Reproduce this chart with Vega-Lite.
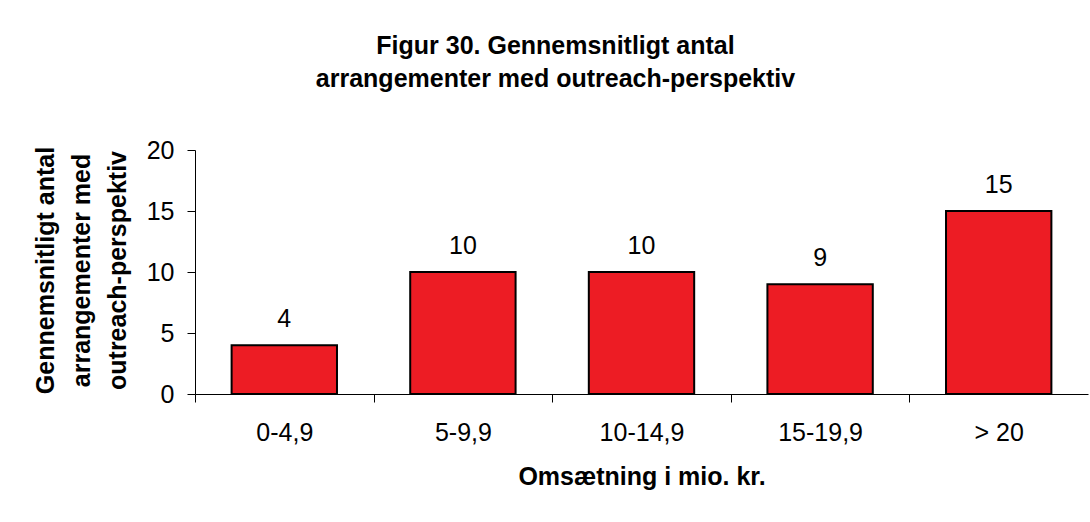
{
  "$schema": "https://vega.github.io/schema/vega-lite/v6.json",
  "width": 893,
  "height": 244,
  "autosize": {"type": "none"},
  "padding": {"left": 195, "top": 150, "right": 2, "bottom": 128},
  "background": "white",
  "config": {
    "font": "Liberation Sans",
    "view": {"stroke": null}
  },
  "title": {
    "text": ["Figur 30. Gennemsnitligt antal", "arrangementer med outreach-perspektiv"],
    "font": "Liberation Sans",
    "fontSize": 25,
    "fontWeight": "bold",
    "color": "black",
    "lineHeight": 33,
    "anchor": "middle",
    "dx": -86,
    "offset": 46
  },
  "data": {
    "values": [
      {"kategori": "0-4,9", "antal": 4},
      {"kategori": "5-9,9", "antal": 10},
      {"kategori": "10-14,9", "antal": 10},
      {"kategori": "15-19,9", "antal": 9},
      {"kategori": "> 20", "antal": 15}
    ]
  },
  "encoding": {
    "x": {
      "field": "kategori",
      "type": "nominal",
      "sort": null,
      "scale": {"paddingInner": 0.41, "paddingOuter": 0.205},
      "axis": {
        "title": "Omsætning i mio. kr.",
        "titleFont": "Liberation Sans",
        "titleFontSize": 25,
        "titleFontWeight": "bold",
        "titleColor": "black",
        "titlePadding": 19,
        "labelFont": "Liberation Sans",
        "labelFontSize": 25,
        "labelColor": "black",
        "labelAngle": 0,
        "labelPadding": 18,
        "bandPosition": 0.5,
        "tickOffset": -89.3,
        "labelOffset": 89.3,
        "tickSize": 8,
        "tickColor": "black",
        "domainColor": "black",
        "grid": false
      }
    },
    "y": {
      "field": "antal",
      "type": "quantitative",
      "scale": {"domain": [0, 20], "nice": false},
      "axis": {
        "title": ["Gennemsnitligt antal", "arrangementer med", "outreach-perspektiv"],
        "titleFont": "Liberation Sans",
        "titleFontSize": 25,
        "titleFontWeight": "bold",
        "titleColor": "black",
        "titleAngle": -90,
        "titleAlign": "center",
        "titleBaseline": "alphabetic",
        "titleLineHeight": 36,
        "titleX": -142,
        "titleY": 120,
        "values": [0, 5, 10, 15, 20],
        "labelFont": "Liberation Sans",
        "labelFontSize": 25,
        "labelColor": "black",
        "labelPadding": 13,
        "tickSize": 8,
        "tickColor": "black",
        "domainColor": "black",
        "grid": false
      }
    }
  },
  "layer": [
    {
      "mark": {"type": "bar", "fill": "#ED1C24", "stroke": "black", "strokeWidth": 2}
    },
    {
      "mark": {"type": "text", "baseline": "alphabetic", "dy": -18, "fontSize": 25, "color": "black", "font": "Liberation Sans"},
      "encoding": {"text": {"field": "antal", "type": "quantitative"}}
    }
  ]
}
